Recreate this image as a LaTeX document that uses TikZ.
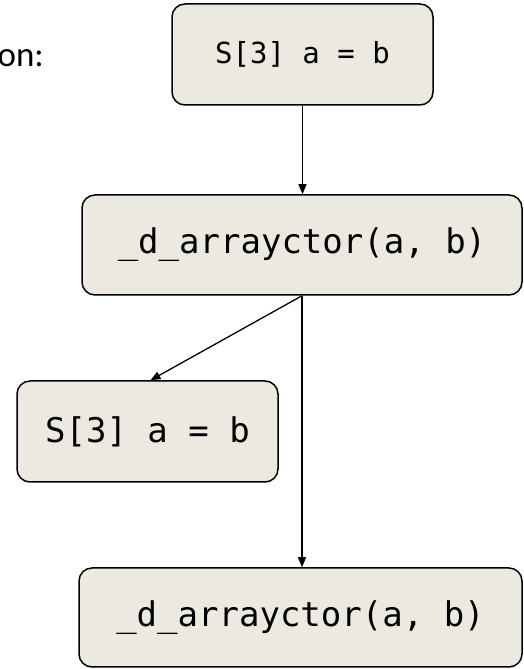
\documentclass[tikz,border=0pt]{standalone}
\usepackage{fontspec}
\setmainfont{Carlito}
\setmonofont{DejaVu Sans Mono}
\usetikzlibrary{arrows.meta}

\definecolor{boxfill}{HTML}{ECEAE0}

\tikzset{
  codebox/.style={draw=black, fill=boxfill, line width=1.5pt, rounded corners=13pt,
    inner sep=0pt, font=\fontsize{34}{40}\selectfont\ttfamily},
  call/.style={line width=1.3pt, -{Triangle[length=10pt,width=8pt]}}
}

\begin{document}
\begin{tikzpicture}[x=1pt, y=1pt]

\useasboundingbox (0, 0) rectangle (523, 669);

\node [anchor=base east, inner sep=0pt, font=\fontsize{35}{40}\selectfont]
  (caption) at (44, 602) {on:};

% the statement and what it lowers to
\node [codebox, minimum width=261, minimum height=101, font=\fontsize{29}{34}\selectfont\ttfamily]
  (stmt) at (302.5, 614.5) {S[3] a = b};
\node [codebox, minimum width=440, minimum height=100]
  (ctorA) at (302, 424) {\_d\_arrayctor(a, b)};
\node [codebox, minimum width=261, minimum height=101]
  (stmtB) at (147.5, 237.5) {S[3] a = b};
\node [codebox, minimum width=443, minimum height=99]
  (ctorB) at (300.5, 51.5) {\_d\_arrayctor(a, b)};

\draw [call] (stmt.south) -- (stmt.south |- ctorA.north);
\draw [call] (ctorA.south) -- ([xshift=3pt]stmtB.north);
\draw [call] (ctorA.south) -- (ctorA.south |- ctorB.north);

\end{tikzpicture}
\end{document}
